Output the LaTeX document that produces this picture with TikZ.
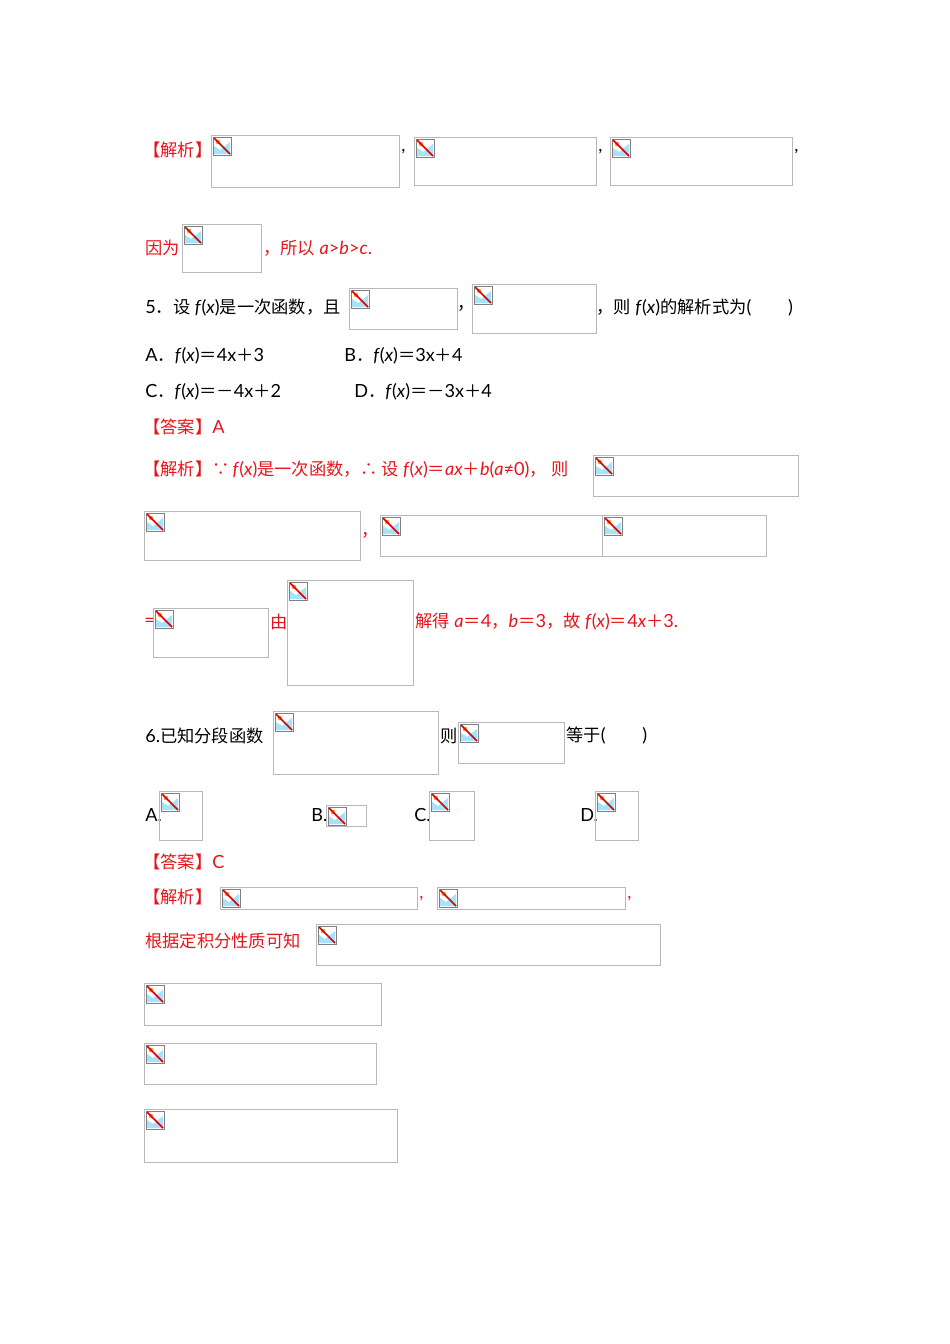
\documentclass[tikz,border=0pt]{standalone}
\usepackage{fontspec}
\setmainfont{Lato}[Scale=1.05]
\newfontfamily\cjkf{Noto Sans CJK SC}
\newcommand\zh[1]{{\cjkf #1}}
\definecolor{ans}{HTML}{E8141B}
\definecolor{bx}{HTML}{B8B8B8}
\newcommand\ph[4]{%
  \draw[bx,line width=0.5pt] (#1,#2) rectangle (#3,#4);
  \begin{scope}[shift={(#1+2,#2+2)}]
    \fill[white] (0,0) rectangle (18,18);
    \fill[cyan!35] (1,17) -- (1,9) -- (7,13) -- (17,5) -- (17,17) -- cycle;
    \fill[orange!80] (5,5) circle (2.3);
    \draw[gray,line width=0.4pt] (0,0) rectangle (18,18);
    \draw[red!85!black,line width=0.9pt] (1,1) -- (17,17);
  \end{scope}}
\begin{document}
\begin{tikzpicture}[x=0.626pt,y=-0.626pt,font=\fontsize{10.8}{12}\selectfont,
  t/.style={anchor=west,inner sep=0pt},r/.style={t,text=ans}]
\useasboundingbox (0,0) rectangle (950,1344);
\node[r] (a1) at (143,150) {\zh{【解析】}};
\ph{211}{135}{399}{187}\node[t] at (401,152) {,};
\ph{414}{137}{596}{185}\node[t] at (598,152) {,};
\ph{610}{137}{792}{185}\node[t] at (794,152) {,};
\node[r] at (145,248) {\zh{因为}};
\ph{182}{224}{261}{272}
\node[r] at (263,248) {\zh{，所以} \textit{a}>\textit{b}>\textit{c}.};
\node[t] at (145,308) {5\zh{．设} \textit{f}(\textit{x})\zh{是一次函数，且}};
\ph{349}{288}{457}{329}\node[t] at (457,308) {\zh{，}};
\ph{472}{284}{596}{333}
\node[t] at (596,308) {\zh{，则} \textit{f}(\textit{x})\zh{的解析式为}(\quad\ \ \ \ )};
\node[t] at (145,356) {A\zh{．}\textit{f}(\textit{x})\zh{＝}4x\zh{＋}3};
\node[t] at (344,356) {B\zh{．}\textit{f}(\textit{x})\zh{＝}3x\zh{＋}4};
\node[t] at (145,392) {C\zh{．}\textit{f}(\textit{x})\zh{＝－}4x\zh{＋}2};
\node[t] at (354,392) {D\zh{．}\textit{f}(\textit{x})\zh{＝－}3x\zh{＋}4};
\node[r] at (143,427) {\zh{【答案】}A};
\node[r] at (143,470) {\zh{【解析】∵}\,\textit{f}(\textit{x})\zh{是一次函数，∴}\,\zh{设} \textit{f}(\textit{x})\zh{＝}\textit{ax}\zh{＋}\textit{b}(\textit{a}≠0)\zh{，}\ \zh{则}};
\ph{593}{455}{798}{496}
\ph{144}{511}{360}{560}\node[r] at (361,535) {\zh{，}};
\ph{380}{515}{602}{556}
\ph{602}{515}{766}{556}
\node[r] at (144,622) {=};
\ph{153}{608}{268}{657}
\node[r] at (270,622) {\zh{由}};
\ph{287}{580}{413}{685}
\node[r] at (415,622) {\zh{解得} \textit{a}\zh{＝}4\zh{，}\textit{b}\zh{＝}3\zh{，故} \textit{f}(\textit{x})\zh{＝}4\textit{x}\zh{＋}3.};
\node[t] at (145,736) {6.\zh{已知分段函数}};
\ph{273}{711}{438}{774}
\node[t] at (440,736) {\zh{则}};
\ph{458}{722}{564}{763}
\node[t] at (566,736) {\zh{等于}(\quad\ \ \ \ )};
\node[t] at (145,815) {A.};\ph{159}{791}{202}{840}
\node[t] at (311,815) {B.};\ph{326}{805}{366}{826}
\node[t] at (414,815) {C.};\ph{429}{791}{474}{840}
\node[t] at (580,815) {D.};\ph{595}{791}{638}{840}
\node[r] at (143,862) {\zh{【答案】}C};
\node[r] at (143,897) {\zh{【解析】}};
\ph{220}{887}{417}{909}\node[r] at (419,899) {,};
\ph{437}{887}{625}{909}\node[r] at (627,899) {,};
\node[r] at (145,941) {\zh{根据定积分性质可知}};
\ph{316}{924}{660}{965}
\ph{144}{983}{381}{1025}
\ph{144}{1043}{376}{1084}
\ph{144}{1109}{397}{1162}
\end{tikzpicture}
\end{document}
